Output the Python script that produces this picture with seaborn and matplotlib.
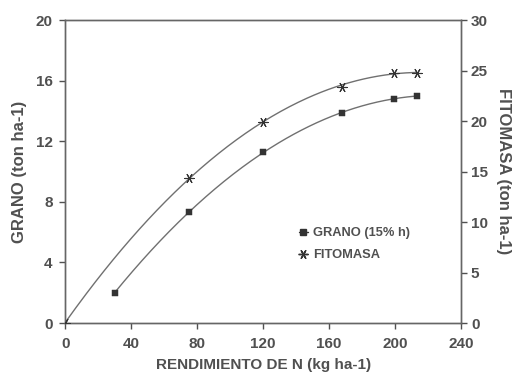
import numpy as np
import pandas as pd
import matplotlib
matplotlib.use("Agg")
import matplotlib.pyplot as plt
import seaborn as sns
from matplotlib.lines import Line2D

# Data
grano_n = [30, 75, 120, 168, 199, 213]
grano_val = [2.0, 7.3, 11.3, 13.85, 14.8, 15.0]
fito_n = [0, 75, 120, 168, 199, 213]
fito_val = [0.0, 14.4, 19.9, 23.4, 24.8, 24.8]

x_ticks = [0, 40, 80, 120, 160, 200, 240]
left_ticks = [0, 4, 8, 12, 16, 20]
right_ticks = [0, 5, 10, 15, 20, 25, 30]

sns.set_style("white")
plt.rcParams['font.family'] = ['Liberation Sans', 'DejaVu Sans']
plt.rcParams['font.weight'] = 'bold'

txt = '#505050'
line_c = '#707070'
mk_c = '#333333'

fig = plt.figure(figsize=(5.17, 3.78), dpi=100)
ax = fig.add_axes([0.126, 0.1455, 0.766, 0.8015])
ax2 = ax.twinx()

# quadratic fits for the trend lines
cg = np.polyfit(grano_n, grano_val, 2)
cf = np.polyfit(fito_n, fito_val, 2)
xg = np.linspace(min(grano_n), max(grano_n), 200)
xf = np.linspace(min(fito_n), max(fito_n), 200)
dfg = pd.DataFrame({'x': xg, 'y': np.polyval(cg, xg)})
dff = pd.DataFrame({'x': xf, 'y': np.polyval(cf, xf)})

sns.lineplot(data=dfg, x='x', y='y', ax=ax, color=line_c, lw=1.0)
sns.scatterplot(x=grano_n, y=grano_val, ax=ax, marker='s', s=18, color=mk_c,
                edgecolor=mk_c, zorder=5)
sns.lineplot(data=dff, x='x', y='y', ax=ax2, color=line_c, lw=1.0)
sns.scatterplot(x=fito_n, y=fito_val, ax=ax2, marker=(6, 2, 90), s=45,
                color=mk_c, edgecolor=mk_c, linewidth=0.8, zorder=5)

ax.set_xlim(0, 240)
ax.set_ylim(0, 20)
ax2.set_ylim(0, 30)
ax.set_xticks(x_ticks)
ax.set_yticks(left_ticks)
ax2.set_yticks(right_ticks)

for a in (ax, ax2):
    for s in a.spines.values():
        s.set_color('#666666')
        s.set_linewidth(1.0)
    a.tick_params(colors=txt, labelsize=11, length=4, width=1, direction='out')
ax.tick_params(axis='x', bottom=True, pad=6)
ax.tick_params(axis='y', left=True, pad=5)
ax2.tick_params(axis='y', right=True, pad=3)

ax.set_xlabel('RENDIMIENTO DE N (kg ha-1)', color=txt, fontsize=11,
              fontweight='bold', labelpad=5)
ax.set_ylabel('GRANO (ton ha-1)', color=txt, fontsize=12,
              fontweight='bold', labelpad=6)
ax2.set_ylabel('FITOMASA (ton ha-1)', color=txt, fontsize=12,
               fontweight='bold', rotation=270, labelpad=17)

handles = [
    Line2D([], [], color=mk_c, marker='s', markersize=4, lw=1.0),
    Line2D([], [], color=mk_c, marker=(6, 2, 90), markersize=7, lw=0.8),
]
leg = ax.legend(handles, ['GRANO (15% h)', 'FITOMASA'], loc='center left',
                bbox_to_anchor=(0.56, 0.26), frameon=False, fontsize=9.3,
                handlelength=0.7, handletextpad=0.4, labelspacing=0.8)
for t in leg.get_texts():
    t.set_color(txt)
    t.set_fontweight('bold')

fig.savefig('out.png', dpi=100)
